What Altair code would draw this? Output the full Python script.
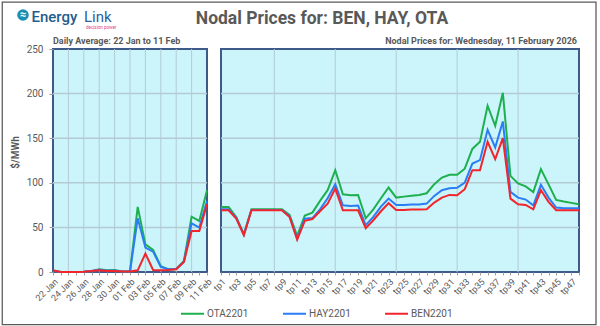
import altair as alt
import pandas as pd

# ---------------- data ----------------
DAYS = ['22 Jan', '23 Jan', '24 Jan', '25 Jan', '26 Jan', '27 Jan', '28 Jan',
        '29 Jan', '30 Jan', '31 Jan', '01 Feb', '02 Feb', '03 Feb', '04 Feb',
        '05 Feb', '06 Feb', '07 Feb', '08 Feb', '09 Feb', '10 Feb', '11 Feb']
OTA_DAILY = [1.5, 0, 0, 0, 0.3, 1.0, 3.0, 1.9, 2.2, 0.5, 0.5, 73.0, 31.0, 24.7,
             6.4, 3.0, 3.4, 12.3, 62.0, 57.3, 91.7]
HAY_DAILY = [1.5, 0, 0, 0, 0.3, 1.0, 2.5, 1.5, 1.8, 0.5, 0.5, 60.2, 27.3, 22.8,
             5.6, 3.0, 3.4, 11.6, 54.6, 49.8, 79.7]
BEN_DAILY = [2.0, 0, 0, 0, 0.3, 1.0, 1.9, 1.2, 1.0, 0.5, 0.5, 1.9, 20.6, 2.2,
             1.9, 2.2, 3.0, 11.2, 46.0, 46.0, 76.0]

PERIODS = ['tp%d' % i for i in range(1, 49)]
OTA_TP = [73.0, 73.0, 61.7, 42.3, 70.3, 70.3, 70.3, 70.3, 70.3, 64.0, 40.4, 63.2,
          66.6, 79.7, 91.7, 114.1, 87.2, 86.1, 86.4, 60.2, 70.3, 82.7, 94.7, 83.4,
          84.5, 85.6, 86.4, 88.3, 98.4, 105.9, 108.9, 108.9, 115.8, 138.0, 145.9, 186.4,
          163.9, 200.9, 107.8, 99.2, 96.0, 89.5, 115.3, 98.2, 80.8, 79.0, 77.5, 76.0]
HAY_TP = [70.4, 70.4, 60.8, 42.0, 69.6, 69.6, 69.6, 69.6, 69.6, 62.5, 37.5, 59.8,
          60.5, 70.3, 82.7, 98.4, 74.8, 74.1, 74.5, 52.4, 61.7, 73.3, 82.3, 75.2,
          75.2, 75.6, 75.6, 76.7, 85.3, 91.7, 93.9, 94.5, 100.3, 121.6, 125.4, 159.4,
          139.6, 168.8, 89.8, 83.4, 81.2, 74.8, 97.7, 83.4, 72.2, 71.5, 71.5, 71.5]
BEN_TP = [69.2, 69.2, 59.8, 41.2, 69.2, 69.2, 69.2, 69.2, 69.2, 61.7, 36.3, 57.3,
          59.4, 68.1, 76.7, 93.5, 69.2, 69.2, 69.2, 49.0, 58.0, 68.1, 77.1, 69.6,
          69.6, 70.0, 70.0, 70.3, 77.8, 83.4, 86.4, 86.1, 92.8, 114.1, 114.1, 145.9,
          126.5, 150.1, 82.3, 76.0, 75.2, 70.3, 91.7, 78.6, 69.2, 69.2, 69.2, 69.2]

SERIES = ['OTA2201', 'HAY2201', 'BEN2201']
COLORS = ['#1eb04f', '#2a7df4', '#f2252b']
Y_TICKS = [0, 50, 100, 150, 200, 250]
Y_GRID = [50, 100, 150, 200]
DAY_GRID = [2, 4, 6, 8, 10, 12, 14, 16, 18]      # every second day
TP_GRID = [8, 16, 24, 32, 40]                    # every eighth period

TITLE = 'Nodal Prices for: BEN, HAY, OTA'
LEFT_SUB = 'Daily Average: 22 Jan to 11 Feb'
RIGHT_SUB = 'Nodal Prices for: Wednesday, 11 February 2026'
Y_TITLE = '$/MWh'

# ---------------- tables ----------------
daily = pd.DataFrame({
    'idx': list(range(len(DAYS))) * 3,
    'series': sum([[s] * len(DAYS) for s in SERIES], []),
    'value': OTA_DAILY + HAY_DAILY + BEN_DAILY,
})
tp = pd.DataFrame({
    'idx': list(range(1, len(PERIODS) + 1)) * 3,
    'series': sum([[s] * len(PERIODS) for s in SERIES], []),
    'value': OTA_TP + HAY_TP + BEN_TP,
})

FONT = 'Roboto'
TXT = '#595959'
GRID = '#b4cbd3'
W1, W2, H = 154, 358, 223

day_labels = [d if i % 2 == 0 else '' for i, d in enumerate(DAYS)]
day_expr = '[' + ','.join("'%s'" % d for d in day_labels) + '][datum.value]'
tp_labels = [p if i % 2 == 0 else '' for i, p in enumerate(PERIODS)]
tp_expr = "[''," + ','.join("'%s'" % p for p in tp_labels) + '][datum.value]'

ysc = alt.Scale(domain=[0, 250], nice=False, zero=True)
color = alt.Color('series:N', sort=SERIES,
                  scale=alt.Scale(domain=SERIES, range=COLORS),
                  legend=alt.Legend(orient='none', legendX=127, legendY=252,
                                    direction='horizontal', title=None,
                                    symbolType='stroke', symbolSize=529,
                                    symbolStrokeWidth=2, labelFontSize=10,
                                    labelColor=TXT, labelFont=FONT,
                                    columnPadding=30, labelOffset=2, padding=0))

axis_x_common = dict(labelAngle=-45, labelFontSize=9, labelColor=TXT,
                     labelFont=FONT, tickSize=3, tickColor='#a0a0a0',
                     domain=False, grid=False, title=None, labelPadding=2,
                     labelOverlap=False, labelFlush=False)

# ---------------- left panel ----------------
xL = alt.X('idx:Q', scale=alt.Scale(domain=[0, len(DAYS) - 1], nice=False, zero=False),
           axis=alt.Axis(values=list(range(len(DAYS))), labelExpr=day_expr, **axis_x_common))
yL = alt.Y('value:Q', scale=ysc,
           axis=alt.Axis(values=Y_TICKS, grid=False, tickSize=4, tickColor='#a0a0a0',
                         labelColor=TXT, labelFontSize=10, labelFont=FONT,
                         labelPadding=6, domain=False, title=Y_TITLE,
                         titleFontSize=10, titleColor=TXT, titleFont=FONT,
                         titleFontWeight='bold', titleX=-35, titleY=103,
                         titleAngle=270, titleBaseline='alphabetic',
                         titleAlign='center'))

left_vgrid = alt.Chart(pd.DataFrame({'idx': DAY_GRID})).mark_rule(
    color=GRID, strokeWidth=1).encode(x=xL)
left_hgrid = alt.Chart(pd.DataFrame({'value': Y_GRID})).mark_rule(
    color=GRID, strokeWidth=1.5).encode(y=yL)
left_lines = alt.Chart(daily).mark_line(strokeWidth=2).encode(
    x=xL, y=yL, color=color)

one = pd.DataFrame({'t': [0]})
frame = alt.Chart(one).mark_rect(fill='white', fillOpacity=0, stroke='#595959',
                                 strokeWidth=1.25).encode(
    x=alt.value(-50.75), x2=alt.value(543), y=alt.value(-47), y2=alt.value(275.5))
title_t = alt.Chart(one).mark_text(text=TITLE, font=FONT, fontSize=17.5, fontWeight='bold',
                                   color=TXT, align='center', baseline='alphabetic').encode(
    x=alt.value(269), y=alt.value(-25.5))
sub_l = alt.Chart(one).mark_text(text=LEFT_SUB, font=FONT, fontSize=9, fontWeight='bold',
                                 color=TXT, align='left', baseline='alphabetic').encode(
    x=alt.value(0), y=alt.value(-5))
logo_c = alt.Chart(one).mark_point(shape='circle', filled=True, size=135, color='#1d8fb3',
                                   opacity=1).encode(x=alt.value(-30), y=alt.value(-34))
logo_w = alt.Chart(one).mark_text(text='≈', font=FONT, fontSize=11, fontWeight='bold',
                                  color='white', align='center', baseline='middle').encode(
    x=alt.value(-30), y=alt.value(-34))
logo_e = alt.Chart(one).mark_text(text='Energy', font=FONT, fontSize=15, fontWeight=500,
                                  color='#1f5d8e', align='left', baseline='alphabetic').encode(
    x=alt.value(-21.5), y=alt.value(-27))
logo_l = alt.Chart(one).mark_text(text='Link', font=FONT, fontSize=15, fontWeight=400,
                                  color='#2c5f9f', align='left', baseline='alphabetic').encode(
    x=alt.value(31), y=alt.value(-27))
logo_s = alt.Chart(one).mark_text(text='decision power', font=FONT, fontSize=4.5,
                                  color='#e0457e', align='left', baseline='alphabetic').encode(
    x=alt.value(33), y=alt.value(-20.5))

left = alt.layer(left_hgrid, left_vgrid, left_lines, frame, title_t, sub_l,
                 logo_c, logo_w, logo_e, logo_l, logo_s).properties(width=W1, height=H)

# ---------------- right panel ----------------
xR = alt.X('idx:Q', scale=alt.Scale(domain=[1, len(PERIODS)], nice=False, zero=False),
           axis=alt.Axis(values=list(range(1, len(PERIODS) + 1)), labelExpr=tp_expr,
                         **axis_x_common))
yR = alt.Y('value:Q', scale=ysc, axis=None)

right_vgrid = alt.Chart(pd.DataFrame({'idx': TP_GRID})).mark_rule(
    color=GRID, strokeWidth=1).encode(x=xR)
right_hgrid = alt.Chart(pd.DataFrame({'value': Y_GRID})).mark_rule(
    color=GRID, strokeWidth=1.5).encode(y=yR)
right_lines = alt.Chart(tp).mark_line(strokeWidth=2).encode(x=xR, y=yR, color=color)
sub_r = alt.Chart(one).mark_text(text=RIGHT_SUB, font=FONT, fontSize=9, fontWeight='bold',
                                 color=TXT, align='right', baseline='alphabetic').encode(
    x=alt.value(356), y=alt.value(-5))

right = alt.layer(right_hgrid, right_vgrid, right_lines, sub_r).properties(width=W2, height=H)

chart = alt.hconcat(left, right, spacing=14, bounds='flush').properties(
    padding=0, autosize=alt.AutoSizeParams(type='pad'), background='white'
).configure(font=FONT).configure_view(
    fill='#ccf4fb', stroke='#3d5a88', strokeWidth=2
)

chart.save('out.html', embed_options={'renderer': 'svg', 'actions': False})
